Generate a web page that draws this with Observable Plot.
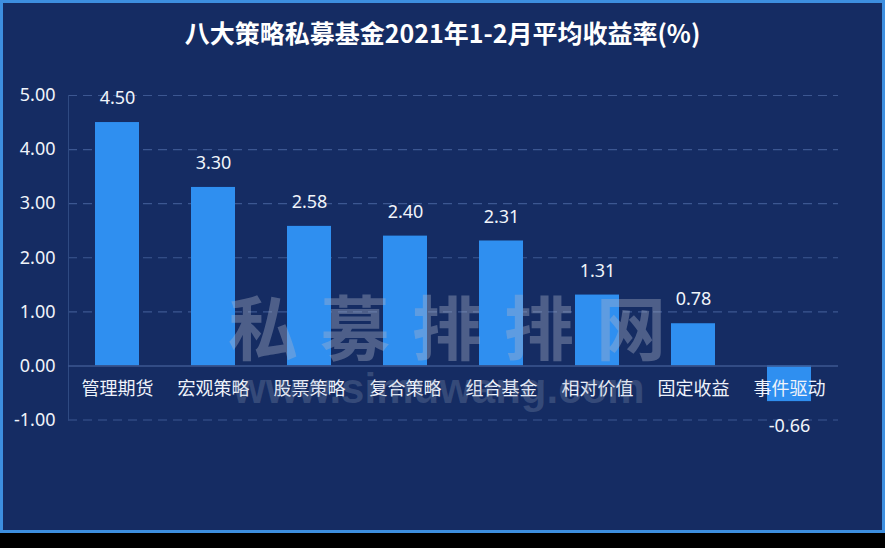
<!DOCTYPE html>
<html><head><meta charset="utf-8">
<script src="https://cdn.jsdelivr.net/npm/d3@7"></script>
<script src="https://cdn.jsdelivr.net/npm/@observablehq/plot@0.6"></script>
<style>
html,body{margin:0;padding:0;background:#000;}
#wrap{position:relative;width:885px;height:533px;background:#152c63;overflow:hidden;font-family:"Noto Sans CJK SC","Noto Sans",sans-serif;}
#border{position:absolute;left:0;top:0;width:885px;height:533px;box-sizing:border-box;border:3px solid #3d8fe0;pointer-events:none;}
#title{position:absolute;left:0;top:16px;width:885px;text-align:center;color:#fff;font-size:25px;font-weight:bold;line-height:32px;}
.wm{position:absolute;white-space:nowrap;font-weight:bold;pointer-events:none;line-height:1;}
#chart{position:absolute;left:0;top:0;}
</style></head>
<body>
<div id="wrap">
<div id="chart"></div>
<div class="wm" style="left:228px;top:290px;font-size:70px;letter-spacing:22px;color:rgba(170,180,200,0.38);font-family:'Noto Sans CJK SC',sans-serif;">私募排排网</div>
<div class="wm" style="left:233px;top:368px;font-size:42px;color:rgba(150,165,190,0.25);font-family:'Liberation Sans',sans-serif;">www.simuwang.com</div>
<div id="title">八大策略私募基金2021年1-2月平均收益率(%)</div>
<div id="border"></div>
</div>
<script>
const categories = ["管理期货","宏观策略","股票策略","复合策略","组合基金","相对价值","固定收益","事件驱动"];
const values = [4.50, 3.30, 2.58, 2.40, 2.31, 1.31, 0.78, -0.66];
const yTicks = [-1, 0, 1, 2, 3, 4, 5];

const data = categories.map((c, i) => ({cat: c, v: values[i]}));
const fmt = v => d3.format(".2f")(v).replace("\u2212", "-");

const plot = Plot.plot({
  width: 885,
  height: 533,
  marginLeft: 68,
  marginRight: 47,
  marginTop: 95,
  marginBottom: 113.5,
  style: {background: "transparent", color: "#fff", fontFamily: "'Noto Sans CJK SC','Noto Sans',sans-serif"},
  x: {domain: categories, paddingInner: 0.54, paddingOuter: 0.27, axis: null},
  y: {domain: [-1, 5], ticks: yTicks, tickFormat: fmt, tickSize: 0, tickPadding: 13, label: null, axis: null},
  marks: [
    Plot.ruleY(yTicks.filter(d => d !== 0), {stroke: "#3c5791", strokeWidth: 1.2, strokeDasharray: "9,6"}),
    Plot.frame({anchor: "left", stroke: "#2f4a82", strokeWidth: 1}),
    Plot.barY(data, {x: "cat", y: "v", fill: "#2f8ff0"}),
    Plot.ruleY([0], {stroke: "#3c5791", strokeWidth: 1.5}),
    Plot.axisY({ticks: yTicks, tickFormat: fmt, tickSize: 0, tickPadding: 13, fontSize: 18, fill: "#f0f4fa", label: null, fontFamily: "'Noto Sans',sans-serif"}),
    Plot.text(data, {x: "cat", y: 0, text: "cat", dy: 23, fontSize: 18, fill: "#eef2fa"}),
    Plot.text(data.filter(d => d.v >= 0), {x: "cat", y: "v", text: d => fmt(d.v), dy: -24, fontSize: 18, fill: "#f0f4fa", fontFamily: "'Noto Sans',sans-serif"}),
    Plot.text(data.filter(d => d.v < 0), {x: "cat", y: "v", text: d => fmt(d.v), dy: 25, fontSize: 18, fill: "#f0f4fa", fontFamily: "'Noto Sans',sans-serif"})
  ]
});
document.getElementById("chart").appendChild(plot);
</script>
</body></html>
